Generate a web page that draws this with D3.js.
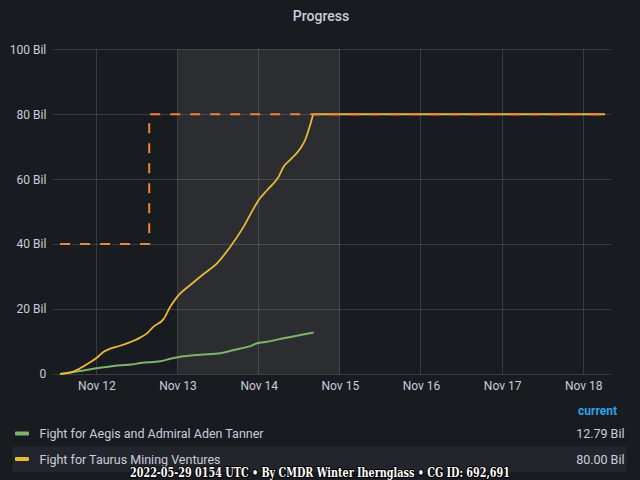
<!DOCTYPE html>
<html>
<head>
<meta charset="utf-8">
<script src="https://cdn.jsdelivr.net/npm/d3@7"></script>
<style>
html,body{margin:0;padding:0;background:#181b1f;}
svg{display:block;}
</style>
</head>
<body>
<svg id="chart" width="640" height="480"></svg>
<script>
const chartTitle = "Progress";
const footerText = "2022-05-29 0154 UTC \u2022 By CMDR Winter Ihernglass \u2022 CG ID: 692,691";

const seriesNames = ["Fight for Aegis and Admiral Aden Tanner", "Fight for Taurus Mining Ventures"];
const seriesColors = ["#7EB26D", "#EAB839"];
const targetColor = "#EF843C";

const greenTimes = ["2021-11-11T13:15","2021-11-11T19:10","2021-11-12T00:07","2021-11-12T05:02","2021-11-12T10:58","2021-11-12T12:57","2021-11-12T18:52","2021-11-12T21:50","2021-11-13T00:48","2021-11-13T06:44","2021-11-13T12:39","2021-11-13T16:36","2021-11-13T21:32","2021-11-13T23:31","2021-11-14T02:29","2021-11-14T07:24","2021-11-14T12:21","2021-11-14T16:18"];
const greenValues = [0,0.9,1.75,2.46,3.0,3.4,3.9,4.7,5.3,5.95,6.4,7.4,8.6,9.45,9.95,11.0,12.0,12.79];

const yellowTimes = ["2021-11-11T13:15","2021-11-11T16:12","2021-11-11T19:10","2021-11-11T22:08","2021-11-12T00:07","2021-11-12T02:04","2021-11-12T04:04","2021-11-12T07:01","2021-11-12T09:59","2021-11-12T12:57","2021-11-12T14:56","2021-11-12T16:54","2021-11-12T19:51","2021-11-12T21:50","2021-11-13T00:18","2021-11-13T03:46","2021-11-13T07:42","2021-11-13T11:40","2021-11-13T15:36","2021-11-13T19:33","2021-11-13T22:31","2021-11-14T00:00","2021-11-14T02:29","2021-11-14T05:55","2021-11-14T07:24","2021-11-14T09:23","2021-11-14T12:21","2021-11-14T13:50","2021-11-14T15:19","2021-11-14T16:18","2021-11-18T06:26"];
const yellowValues = [0,0.4,1.75,3.6,5.0,6.8,7.8,8.7,9.8,11.2,12.5,14.6,16.9,20.7,24.3,27.4,30.8,34.1,39.2,45.4,51.0,53.6,56.6,60.8,63.9,66.0,69.5,72.3,77.0,80.0,80.0];

const targetTimes = ["2021-11-11T13:15","2021-11-12T15:37","2021-11-18T06:26"];
const targetValues = [40,80,80];

const regionStart = "2021-11-13T00:00";
const regionEnd = "2021-11-15T00:00";

const xDomain = ["2021-11-11T11:15","2021-11-18T08:07"];
const yTicks = [0,20,40,60,80,100];

const parse = d3.utcParse("%Y-%m-%dT%H:%M");
const svg = d3.select("#chart");
const font = "Roboto, 'Noto Sans', sans-serif";
const textColor = "#ccccdc";

const x = d3.scaleUtc().domain(xDomain.map(parse)).range([53.3, 610.7]);
const y = d3.scaleLinear().domain([0,100]).range([374, 49.3]);

// title
svg.append("text").attr("x", 321).attr("y", 21).attr("text-anchor","middle")
  .attr("fill", textColor).attr("font-family", font).attr("font-size", 14).attr("font-weight", 500)
  .text(chartTitle);

// time region
svg.append("rect").attr("x", x(parse(regionStart))).attr("y", y(100))
  .attr("width", x(parse(regionEnd)) - x(parse(regionStart))).attr("height", y(0) - y(100))
  .attr("fill", "#2b2d31");

// grid
const gridColor = "rgba(204,204,220,0.18)";
const xTicks = x.ticks(d3.utcDay.every(1));
svg.append("g").selectAll("line").data(xTicks).join("line")
  .attr("x1", d => x(d)).attr("x2", d => x(d)).attr("y1", y(100)).attr("y2", y(0))
  .attr("stroke", gridColor).attr("stroke-width", 1).attr("shape-rendering","crispEdges");
svg.append("g").selectAll("line").data(yTicks).join("line")
  .attr("x1", x.range()[0]).attr("x2", x.range()[1]).attr("y1", d => y(d)).attr("y2", d => y(d))
  .attr("stroke", gridColor).attr("stroke-width", 1).attr("shape-rendering","crispEdges");

// axes labels
const yAxis = svg.append("g").attr("transform", `translate(${x.range()[0]},0)`)
  .call(d3.axisLeft(y).tickValues(yTicks).tickSize(0).tickPadding(7).tickFormat(d => d === 0 ? "0" : d + " Bil"));
yAxis.select(".domain").remove();
yAxis.selectAll("text").attr("fill", textColor).attr("font-family", font).attr("font-size", 12);

const xAxis = svg.append("g").attr("transform", `translate(0,${y(0)})`)
  .call(d3.axisBottom(x).ticks(d3.utcDay.every(1)).tickSize(0).tickPadding(7).tickFormat(d3.utcFormat("%b %d")));
xAxis.select(".domain").remove();
xAxis.selectAll("text").attr("fill", textColor).attr("font-family", font).attr("font-size", 12);

// lines
const line = d3.line().x(d => x(d.t)).y(d => y(d.v)).curve(d3.curveMonotoneX);
const toPts = (ts, vs) => ts.map((t,i) => ({t: parse(t), v: vs[i]}));

svg.append("path").datum(toPts(greenTimes, greenValues)).attr("d", line)
  .attr("fill","none").attr("stroke", seriesColors[0]).attr("stroke-width", 2);
svg.append("path").datum(toPts(yellowTimes, yellowValues)).attr("d", line)
  .attr("fill","none").attr("stroke", seriesColors[1]).attr("stroke-width", 1.8);
svg.append("path").datum(toPts(targetTimes, targetValues))
  .attr("d", d3.line().x(d => x(d.t)).y(d => y(d.v)).curve(d3.curveStepAfter))
  .attr("fill","none").attr("stroke", targetColor).attr("stroke-width", 2).attr("stroke-dasharray","10,10");

// legend
svg.append("text").attr("x", 617).attr("y", 414.5).attr("text-anchor","end")
  .attr("fill", "#33A2E5").attr("font-family", font).attr("font-size", 12).attr("font-weight", 700)
  .text("current");

const lastVals = [greenValues[greenValues.length-1], yellowValues[yellowValues.length-1]];
const rowY = [433.5, 459];
svg.append("rect").attr("x", 12.7).attr("y", 446.5).attr("width", 614).attr("height", 25.5).attr("fill", "#22252b");
seriesNames.forEach((name, i) => {
  svg.append("rect").attr("x", 15).attr("y", rowY[i] - 2).attr("width", 14).attr("height", 4)
    .attr("rx", 1).attr("fill", seriesColors[i]);
  svg.append("text").attr("x", 39.5).attr("y", rowY[i] + 4.5)
    .attr("fill", textColor).attr("font-family", font).attr("font-size", 12.5)
    .text(name);
  svg.append("text").attr("x", 624.5).attr("y", rowY[i] + 4.5).attr("text-anchor","end")
    .attr("fill", textColor).attr("font-family", font).attr("font-size", 12.5)
    .text(lastVals[i].toFixed(2) + " Bil");
});

// footer
svg.append("text").attr("x", 320).attr("y", 476.5).attr("text-anchor","middle")
  .attr("fill", "#ffffff").attr("stroke", "#000").attr("stroke-width", 2).attr("paint-order","stroke")
  .attr("font-family", "'DejaVu Serif Condensed', 'DejaVu Serif', serif").attr("font-weight", 700).attr("font-size", 13)
  .attr("textLength", 380).attr("lengthAdjust", "spacingAndGlyphs")
  .text(footerText);
</script>
</body>
</html>
